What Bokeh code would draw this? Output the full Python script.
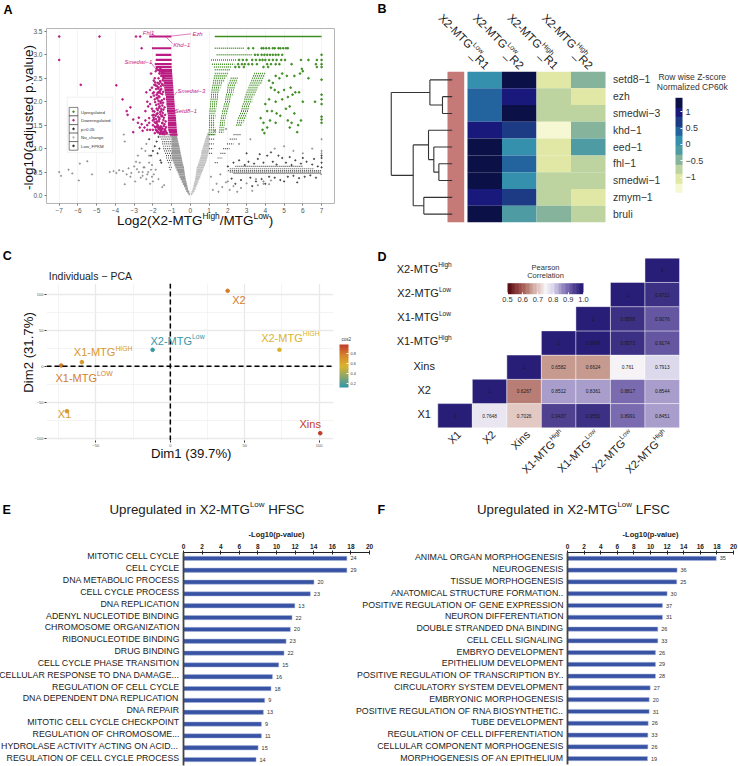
from math import pi, cos, sin
from bokeh.plotting import figure
from bokeh.layouts import row, column
from bokeh.models import (Label, Range1d, LinearAxis, FixedTicker, Span, ColorBar, LinearColorMapper,
                          ColumnDataSource, AllLabels)
from bokeh.core.properties import value
from bokeh.embed import file_html
from bokeh.resources import INLINE

FONT = "Liberation Sans"
# ---------------- panel A data
ticks_a_x = list(range(-7, 8))
ticks_a_y = [0, 0.5, 1, 1.5, 2, 2.5, 3, 3.5]
pink_row_y = [3.39,3.14,3.0,2.89,2.8,2.74,2.68,2.64,2.6,2.55,2.5,2.45,2.4,2.35,2.3,2.25,2.2,2.15,2.1,2.05,2.0,1.95,1.9,1.85,1.8,1.75,1.7,1.65,1.6,1.55,1.5,1.45,1.4,1.35,1.3]
pink_row_a = [-2.2,-2.05,-1.85,-1.85,-1.9,-1.85,-1.8,-1.7,-1.6,-1.55,-1.5,-1.45,-1.42,-1.4,-1.4,-1.38,-1.36,-1.34,-1.3,-1.3,-1.28,-1.28,-1.26,-1.25,-1.25,-1.22,-1.2,-1.2,-1.2,-1.2,-1.2,-1.2,-1.18,-1.15,-1.1]
pink_row_b = [-1.02,-1.02,-1.02,-1.0,-1.0,-1.0,-0.98,-0.98,-0.97,-0.96,-0.95,-0.94,-0.93,-0.92,-0.91,-0.9,-0.89,-0.88,-0.87,-0.86,-0.85,-0.84,-0.83,-0.82,-0.81,-0.8,-0.78,-0.77,-0.76,-0.75,-0.74,-0.73,-0.72,-0.71,-0.68]
pink_x = [-7,-4.85,-2.9,-2.68,-2.6,-7,-5.85,-3.95,-3.62,-3.2,-3.4,-3.35,-3.05,-2.75,-2.8,-2.7,-2.45,-3.05,-2.3,-2.15,-2.4,-2.25,-2.05,-1.95,-2.2,-2.0,-1.85,-1.75,-2.3,-2.1,-1.9,-1.7,-2.35,-2.15,-1.95,-1.8,-1.65,-2.05,-1.85,-1.7,-1.6,-2.3,-2.0,-1.8,-1.55,-1.95,-1.75,-1.6,-1.9,-1.7,-1.55,-2.1,-1.85,-1.65,-1.5,-1.8,-1.6,-1.45,-1.75,-1.55,-1.75,-1.6,-1.5,-1.65,-1.5,-2.2,-2.0,-2.4,-2.55,-2.6,-1.9,-1.7,-2.0,-1.6,-2.15,-1.45,-1.5,-1.8,-1.95,-1.7,
          -1.42,-1.48,-1.52,-1.58,-1.62,-1.68,-1.72,-1.78,-1.83,-1.88,-1.92,-1.45,-1.5,-1.55,-1.6,-1.65,-1.7,-1.75,-1.8,-1.4,-1.46,-1.52,-1.58,-1.64,-1.7,-1.76,-1.82,-1.88,-1.94,-2.0,-1.38,-1.44,-1.5,-1.56,-1.62,-1.68,-1.74,-1.8,-1.86,-1.92,-1.35,-1.42,-1.48,-1.54,-1.6,-1.66,-1.72,-1.78,-1.84,-1.9,-1.96,-2.02,-1.32,-1.38,-1.44,-1.5,-1.56,-1.62,-1.68,-1.74,-1.8,-1.86,-1.3,-1.36,-1.42,-1.48,-1.54,-1.6,-1.66,-1.72,-1.78,-1.84,-1.9,-1.28,-1.34,-1.4,-1.46,-1.52,-1.58,-1.64,-1.7,-1.76,-1.26,-1.32,-1.38,-1.44,-1.5,-1.56,-1.62,-1.68]
pink_y = [3.39,3.39,3.39,3.39,3.14,2.89,2.36,2.35,2.05,1.88,1.8,1.72,1.62,1.66,1.55,1.45,1.45,1.35,1.4,1.4,1.8,1.9,1.85,1.72,1.65,1.6,1.55,1.5,2.0,2.1,2.05,1.95,2.2,2.25,2.2,2.15,2.1,2.3,2.35,2.3,2.25,1.5,1.4,1.38,1.42,2.45,2.4,2.42,2.5,2.5,2.55,2.6,2.65,2.6,2.66,2.7,2.7,2.62,1.75,1.8,1.35,1.32,1.34,1.65,1.55,1.55,1.5,1.6,1.38,1.52,1.33,1.42,1.8,2.0,1.95,2.35,1.7,1.85,1.62,2.2,
          2.52,2.46,2.38,2.33,2.44,2.38,2.28,2.33,2.27,2.41,2.36,2.21,2.16,2.27,2.18,2.22,2.12,2.19,2.08,2.06,1.98,2.03,1.97,1.9,2.02,2.07,1.93,1.99,2.13,2.18,1.88,1.83,1.92,1.85,1.78,1.87,1.82,1.74,1.7,1.79,1.72,1.66,1.76,1.69,1.73,1.62,1.68,1.58,1.63,1.56,1.66,1.71,1.58,1.52,1.61,1.54,1.47,1.44,1.58,1.49,1.54,1.45,1.46,1.39,1.48,1.42,1.36,1.47,1.41,1.35,1.46,1.4,1.47,1.33,1.42,1.36,1.31,1.43,1.38,1.32,1.45,1.37,1.33,1.37,1.31,1.35,1.32,1.39,1.34]
green_row_y = [3.14,3.0,2.89,2.8,2.74,2.68,2.6,2.55,2.5,2.45,2.4,2.35,2.3,2.25,2.2,2.15,2.1,2.05,2.0,1.95,1.9,1.85,1.8,1.75,1.7,1.65,1.6,1.55,1.5,1.45,1.4,1.35,1.3,
               2.5,2.45,2.4,2.35,2.3,2.25,2.2,2.15,2.1,2.05,2.0,1.95,1.9,1.85,1.8,1.75,1.7,1.65,1.6,1.55,1.5,1.45,1.4,1.35,
               2.6,2.55,2.5,2.45,2.4,2.35,2.3,2.25,2.2,2.15,2.1,2.05,2.0,1.95,1.9,1.85,1.8,1.75,1.7,1.65,1.6,1.55,1.5]
green_row_a = [1.3,1.4,1.1,1.15,1.25,1.3,1.3,1.28,1.25,1.22,1.2,1.18,1.15,1.13,1.12,1.1,1.1,1.08,1.06,1.05,1.05,1.03,1.02,1.02,1.0,1.0,1.0,1.0,1.0,1.0,0.98,0.98,0.96,
               2.15,2.1,2.05,2.0,1.98,1.96,1.95,1.9,1.88,1.86,1.85,1.8,1.77,1.75,1.7,1.68,1.65,1.63,1.6,1.58,1.57,1.55,1.55,1.52,
               3.4,3.35,3.3,3.25,3.2,3.15,3.1,3.05,3.0,2.95,2.9,2.88,2.85,2.8,2.75,2.73,2.7,2.65,2.6,2.55,2.5,2.48,2.45]
green_row_b = [2.9,3.3,2.5,2.35,2.2,2.15,2.0,1.95,1.9,1.8,1.7,1.65,1.6,1.57,1.53,1.5,1.5,1.47,1.45,1.42,1.4,1.38,1.37,1.35,1.35,1.33,1.3,1.3,1.3,1.33,1.35,1.35,1.35,
               2.55,2.52,2.5,2.42,2.36,2.32,2.3,2.25,2.2,2.18,2.15,2.1,2.05,2.02,2.0,1.95,1.9,1.88,1.85,1.83,1.82,1.8,1.8,1.76,
               4.0,3.95,3.9,3.85,3.8,3.7,3.6,3.55,3.5,3.42,3.35,3.32,3.3,3.2,3.15,3.12,3.1,3.0,2.98,2.95,2.9,2.82,2.75]
green_x = [3.1,3.35,3.8,3.9,4.05,4.2,4.4,4.5,4.7,4.8,4.95,5.1,5.2,3.45,3.6,3.8,3.95,4.1,4.25,4.4,4.55,4.7,4.9,7,2.6,2.8,3.0,3.3,3.5,3.7,3.85,4.0,4.2,4.4,4.6,4.85,5.05,5.9,6.3,6.75,7,2.55,2.75,2.9,3.1,3.3,3.55,4.1,4.3,4.55,4.75,5.4,6.7,7,2.4,2.6,2.85,3.9,4.15,6.75,7,5.95,6.0,5.85,6.3,5.55,5.15,4.9,4.75,4.55,4.4,4.2,4.3,4.5,4.7,5.0,5.35,5.6,5.8,5.45,5.2,4.9,4.55,4.2,4.0,4.1,4.35,4.6,4.8,4.55,4.25,4.1,3.9,3.75,3.85,3.95,5.1,5.3,5.55,5.2,5.4,5.75,5.9,5.3,5.7,6.0,6.65,7,7,7,7,7,7,7]
green_y = [3.14,3.14,3.14,3.14,3.14,3.14,3.14,3.14,3.14,3.14,3.14,3.14,3.14,3.0,3.0,3.0,3.0,3.0,3.0,3.0,3.0,3.0,3.0,3.0,2.89,2.89,2.89,2.89,2.89,2.89,2.89,2.89,2.89,2.89,2.89,2.89,2.89,2.89,2.89,2.89,2.89,2.8,2.8,2.8,2.8,2.8,2.8,2.8,2.8,2.8,2.8,2.8,2.8,2.8,2.74,2.74,2.74,2.74,2.74,2.74,2.74,2.7,2.65,2.6,2.5,2.55,2.55,2.6,2.5,2.55,2.4,2.45,2.3,2.25,2.2,2.25,2.3,2.2,2.2,2.15,2.1,2.05,2.0,2.05,1.95,1.8,1.8,1.75,1.7,1.55,1.6,1.45,1.55,1.65,1.4,1.33,1.85,1.9,1.75,1.6,1.55,1.5,1.6,1.45,1.35,2.0,2.0,2.47,2.15,2.05,1.95,1.68,1.62,1.55]
dark_row_y = [0.6,0.7,0.8,0.9,1.0,1.1,1.2,1.3, 0.9,1.0,1.1,1.2,1.3, 0.7,0.8,0.9,1.0,1.1,1.2,1.3, 0.47,0.5,0.53,0.57,0.62, 0.65,0.75,0.85,0.95,1.05,1.15,1.25,0.55,0.45]
dark_row_a = [-1.15,-1.2,-1.3,-1.35,-1.45,-1.5,-1.55,-1.65, 1.0,1.0,1.0,1.0,1.0, 1.3,1.45,1.6,1.75,1.95,2.1,2.3, 2.3,2.1,2.0,2.1,2.4, -1.1,-1.25,-1.3,-1.4,-1.45,-1.5,-1.6,-1.1,6.95]
dark_row_b = [-1.0,-1.0,-1.0,-1.0,-1.0,-1.0,-1.0,-1.0, 1.18,1.22,1.25,1.28,1.3, 1.5,1.7,1.9,2.1,2.3,2.5,2.7, 7,7,7,6.6,6.0, -1.0,-1.0,-1.0,-1.0,-1.0,-1.0,-1.0,-1.0,7]
grey_y  = [0.03,0.07,0.1,0.15,0.2,0.25,0.3,0.35,0.4,0.45,0.5,0.55,0.6,0.65,0.7,0.75,0.8,0.85,0.9,0.95,1.0,1.05,1.1,1.15,1.2,1.25,1.3]
grey_l0 = [-0.1,-0.16,-0.22,-0.28,-0.34,-0.4,-0.46,-0.52,-0.58,-0.63,-0.68,-0.74,-0.8,-0.85,-0.9,-0.95,-1.0,-1.0,-1.0,-1.0,-1.0,-1.0,-1.0,-1.0,-1.0,-1.0,-1.0]
grey_l1 = [-0.03,-0.06,-0.1,-0.13,-0.16,-0.19,-0.22,-0.25,-0.27,-0.29,-0.31,-0.33,-0.34,-0.38,-0.41,-0.44,-0.46,-0.49,-0.52,-0.54,-0.56,-0.59,-0.62,-0.65,-0.68,-0.7,-0.73]
grey_r0 = [0.03,0.06,0.1,0.13,0.16,0.19,0.22,0.25,0.27,0.29,0.31,0.33,0.34,0.4,0.44,0.48,0.52,0.56,0.58,0.6,0.64,0.68,0.72,0.76,0.8,0.84,0.88]
grey_r1 = [0.1,0.16,0.22,0.28,0.33,0.38,0.43,0.48,0.53,0.58,0.63,0.68,0.73,0.78,0.83,0.87,0.9,0.93,0.96,0.98,1.0,1.0,1.0,1.0,1.0,1.0,1.0]
dark_x = [2.0,2.3,2.6,2.9,3.1,3.4,3.6,3.9,4.1,4.4,4.6,4.9,5.1,5.4,5.6,5.9,6.2,6.5,6.8,2.2,2.7,3.2,3.5,3.8,4.2,4.5,4.8,5.2,5.5,5.8,6.1,6.4,6.7,3.0,3.7,4.3,4.7,5.3,6.0,6.6,2.4,3.3,4.0,5.0,5.7,7,7,7,7,-1.7,-1.8,-1.65,-1.9,-1.75,-2.0,-2.2,-2.1,-1.6,-1.55]
dark_y = [0.62,0.7,0.75,0.65,0.72,0.68,0.78,0.7,0.85,0.72,0.66,0.8,0.7,0.65,0.75,0.68,0.72,0.66,0.62,0.36,0.33,0.38,0.3,0.35,0.4,0.38,0.33,0.4,0.42,0.37,0.4,0.43,0.38,0.9,0.88,0.92,0.85,0.82,0.8,0.78,0.25,0.2,0.25,0.3,0.28,0.8,0.7,0.6,0.85,1.25,1.15,1.0,1.05,0.9,0.95,1.2,0.85,0.75,0.7]
grey_sc_x = [-7,-6.9,-6.5,-6.3,-5.95,-5.5,-5.25,-5.9,-4.3,-4.1,-3.95,-3.8,-3.6,-3.4,-3.3,-3.15,-3.0,-2.85,-2.7,-2.55,-3.5,-3.2,-2.95,-2.8,-2.65,-2.5,-2.4,-2.3,-2.2,-2.1,-3.5,-3.55,-2.0,-2.6,-2.35,-2.2,-2.05,-2.9,-2.75,-2.55,-2.45,-2.35,-2.25,-2.15,-2.05,-1.95,-1.85,-1.5,-1.7,-1.4,1.2,1.4,1.5,1.7,1.9,2.1,2.3,2.5,2.7,3.0,3.3,3.6,3.9,4.2,7,7,7,1.3,1.9,2.6,3.2,4.5,5.0,5.5,6.0,6.5,3.5,3.9,4.3,1.1,1.6,2.0]
grey_sc_y = [0.5,0.42,0.55,0.47,0.32,0.73,0.45,0.68,0.5,0.52,0.48,0.54,0.52,0.45,0.58,0.48,0.62,0.56,0.7,0.5,0.24,0.4,0.3,0.85,0.38,0.6,0.95,0.45,0.7,0.55,1.15,1.3,0.3,1.0,1.1,0.85,0.4,0.72,0.5,0.42,0.6,0.35,0.5,0.25,0.65,0.45,0.55,0.18,0.35,0.22,0.12,0.25,0.08,0.18,0.28,0.12,0.2,0.08,0.16,0.26,0.1,0.22,0.3,0.24,1.2,0.95,0.9,1.38,1.42,1.1,1.2,1.0,1.05,0.95,0.9,1.0,0.35,0.25,0.32,0.4,0.45,0.3]
# ---------------- panel B data
genes = ["setd8\u22121", "ezh", "smedwi\u22123", "khd\u22121", "eed\u22121", "fhl\u22121", "smedwi\u22121", "zmym\u22121", "bruli"]
z_r1 = [0.05, 0.45, 0.45, 1.1, 1.35, 1.35, 1.35, 1.1, 1.35]
z_r2 = [1.35, 1.1, 1.35, 0.75, 0.1, 0.45, 0.15, 0.75, -0.1]
z_r3 = [-0.95, -0.7, -0.7, -1.35, -1.0, -1.0, -0.7, -0.7, -0.4]
z_r4 = [-0.35, -1.0, -0.7, -0.4, -0.1, -0.7, -0.7, -1.0, -0.7]
heat_pal = ["#f6f8d4","#e1e8a5","#bdd4a0","#85b39b","#4f9ba3","#3590ad","#23649f","#1d3a85","#18197a","#0b1146"]
# dendrogram segments: heights (x) and row positions (y)
den_x0 = [-0.444,-0.444,-0.444,-0.725,-0.725,-1.09,-1.09,-0.444,-0.444,-0.444,-0.444,-0.83,-0.83,-0.976,-0.976,-1.13,-1.13,-0.444,-0.444,-1.266,-1.266,-1.574,-1.574,-2.21]
den_y0 = [0.5,1.5,2.5,1.5,2.0,0.5,1.25,3.5,4.5,5.5,6.5,5.5,6.0,4.5,5.25,3.5,4.375,7.5,8.5,7.5,8.0,4.375,6.19,1.25]
den_x1 = [-1.09,-0.725,-0.725,-0.725,-1.09,-1.09,-2.21,-1.13,-0.976,-0.83,-0.83,-0.83,-0.976,-0.976,-1.13,-1.13,-1.574,-1.266,-1.266,-1.266,-1.574,-1.574,-2.21,-2.21]
den_y1 = [0.5,1.5,2.5,2.5,2.0,2.0,1.25,3.5,4.5,5.5,6.5,6.5,6.0,6.0,5.25,5.25,4.375,7.5,8.5,8.5,8.0,8.0,6.19,6.19]
# ---------------- panel C data
pca_names = ["X2", "X2-MTG|Low", "X2-MTG|HIGH", "X1-MTG|HIGH", "X1-MTG|LOW", "X1", "Xins"]
pca_d1 = [38.5, -11.9, 73.3, -59.4, -73.3, -69.5, 100.7]
pca_d2 = [104.5, 22.7, 22.7, 5.6, 1.0, -62.4, -92.9]
pca_cos2 = [0.78, 0.15, 0.55, 0.68, 0.78, 0.66, 0.96]
# ---------------- panel D data
cor_names = ["X1", "X2", "Xins", "X1-MTG|High", "X1-MTG|Low", "X2-MTG|Low", "X2-MTG|High"]
cor_col = [0,1,2,3,4,5,6, 1,2,3,4,5,6, 2,3,4,5,6, 3,4,5,6, 4,5,6, 5,6, 6]
cor_row = [0,0,0,0,0,0,0, 1,1,1,1,1,1, 2,2,2,2,2, 3,3,3,3, 4,4,4, 5,5, 6]
cor_val = [1,0.7648,0.7026,0.9437,0.9551,0.8991,0.8451, 1,0.6267,0.8512,0.8361,0.8817,0.8544,
           1,0.6582,0.6624,0.761,0.7913, 1,0.9978,0.9573,0.9174, 1,0.9598,0.9076, 1,0.9721, 1]
# ---------------- panels E, F data
e_terms = ["MITOTIC CELL CYCLE","CELL CYCLE","DNA METABOLIC PROCESS","CELL CYCLE PROCESS","DNA REPLICATION","ADENYL NUCLEOTIDE BINDING","CHROMOSOME ORGANIZATION","RIBONUCLEOTIDE BINDING","DRUG BINDING","CELL CYCLE PHASE TRANSITION","CELLULAR RESPONSE TO DNA DAMAGE...","REGULATION OF CELL CYCLE","DNA DEPENDENT DNA REPLICATION","DNA REPAIR","MITOTIC CELL CYCLE CHECKPOINT","REGULATION OF CHROMOSOME...","HYDROLASE ACTIVITY ACTING ON ACID...","REGULATION OF CELL CYCLE PROCESS"]
e_vals = [17.57,17.57,14.03,13.64,11.97,11.67,11.49,11.03,10.81,10.24,9.56,9.41,8.73,8.59,8.38,8.38,8.02,7.8]
e_counts = [24,29,20,23,13,22,20,23,22,15,16,18,9,13,9,11,15,14]
f_terms = ["ANIMAL ORGAN MORPHOGENESIS","NEUROGENESIS","TISSUE MORPHOGENESIS","ANATOMICAL STRUCTURE FORMATION..","POSITIVE REGULATION OF GENE EXPRESSION","NEURON DIFFERENTIATION","DOUBLE STRANDED DNA BINDING","CELL CELL SIGNALING","EMBRYO DEVELOPMENT","EPITHELIUM DEVELOPMENT","POSITIVE REGULATION OF TRANSCRIPTION BY..","CIRCULATORY SYSTEM DEVELOPMENT","EMBRYONIC MORPHOGENESIS","POSITIVE REGULATION OF RNA BIOSYNTHETIC..","TUBE DEVELOPMENT","REGULATION OF CELL DIFFERENTIATION","CELLULAR COMPONENT MORPHOGENESIS","MORPHOGENESIS OF AN EPITHELIUM"]
f_vals = [17.92,13.2,13.16,12.0,11.44,11.44,10.88,10.88,10.6,10.6,10.6,9.96,9.84,9.84,9.72,9.68,9.68,9.64]
f_counts = [35,36,25,30,37,31,26,33,26,29,28,27,20,31,26,33,26,19]

# ---------------- helpers
W = {'X':667,'1':556,'2':556,'-':333,'M':833,'T':611,'G':778,'H':722,'i':222,'g':556,'h':556,'L':556,'o':556,'w':722,'I':278,'C':722,'O':778,'/':278,
     'l':222,'U':722,'p':556,'r':333,'e':556,'u':556,'a':556,'t':278,'d':556,'n':556,' ':278,'(':333,')':333,'S':667,'F':611,'s':500}
def tw(s, size):
    return sum(W.get(c, 556) for c in s) * size / 1000.0

def make_fig(ox, oy, w, h, fx0, fy0, fx1, fy1, xr, yr, **kw):
    p = figure(width=w, height=h, x_range=xr, y_range=yr, output_backend="svg", toolbar_location=None, frame_align=False,
               min_border_left=int(round(fx0-ox)), min_border_right=int(round(ox+w-fx1)),
               min_border_top=int(round(fy0-oy)), min_border_bottom=int(round(oy+h-fy1)), **kw)
    p.border_fill_color = None
    p.background_fill_color = None
    p.outline_line_color = None
    p.grid.visible = False
    return p

# a transparent sheet over the whole page carries the free-standing texts
sheet = figure(width=738, height=766, x_range=Range1d(0, 738), y_range=Range1d(0, 766), output_backend="svg",
               toolbar_location=None, frame_align=False, x_axis_location=None, y_axis_location=None,
               min_border_left=0, min_border_right=0, min_border_top=0, min_border_bottom=0, margin=(-766, 0, 0, 0))
sheet.border_fill_color = None
sheet.background_fill_color = None
sheet.outline_line_color = None
sheet.grid.visible = False

def put(px, py, text, size, color="#222222", angle=0, align="left", baseline="middle", style="normal"):
    sheet.add_layout(Label(x=px, y=766-py, text=text, text_font=FONT, text_font_size=f"{size}px", text_color=color, angle=angle,
                           text_align=align, text_baseline=baseline, text_font_style=style))

def rich(px, py, parts, size, color="#222222", angle=0, center=False, ratio=0.62):
    """parts: list of (text, is_superscript); drawn left to right along the angle."""
    total = sum(tw(t, size*ratio if s else size) for t, s in parts)
    d = -total/2 if center else 0
    for t, s in parts:
        sz = size*ratio if s else size
        rise = size*0.36 if s else 0
        lead_sp = tw(t[:len(t)-len(t.lstrip())], sz)
        put(px + (d+lead_sp)*cos(angle) - rise*sin(angle), py - (d+lead_sp)*sin(angle) - rise*cos(angle), t.strip(), round(sz,2), color, angle=angle)
        d += tw(t, sz)

def parts_of(name):
    return [(name.split("|")[0], False), (name.split("|")[1], True)] if "|" in name else [(name, False)]

def mix(a, b, t):
    ca = [int(a[i:i+2],16) for i in (1,3,5)]; cb = [int(b[i:i+2],16) for i in (1,3,5)]
    return "#%02x%02x%02x" % tuple(int(round(x+(y-x)*t)) for x, y in zip(ca, cb))

def ramp(anchors, n):
    out = []
    for i in range(n):
        f = i/(n-1)*(len(anchors)-1); k = min(int(f), len(anchors)-2)
        out.append(mix(anchors[k], anchors[k+1], f-k))
    return out

# ---------------- A
ax0, ax1, ay0, ay1 = 46.3, 334.3, 28.3, 203.3
xsc, ysc = 18.74, 46.9
pA = make_fig(0, 0, 370, 240, ax0, ay0, ax1, ay1,
              Range1d(-7+(ax0-59)/xsc, -7+(ax1-59)/xsc), Range1d((195.3-ay1)/ysc, (195.3-ay0)/ysc))
pA.outline_line_color = "#b5b5b5"
pA.xaxis.ticker = FixedTicker(ticks=ticks_a_x)
pA.xaxis.major_label_overrides = {t: (f"\u2212{-t}" if t < 0 else str(t)) for t in ticks_a_x}
pA.yaxis.ticker = FixedTicker(ticks=ticks_a_y)
pA.yaxis.major_label_overrides = {t: f"{t:.1f}" for t in ticks_a_y}
for ax in (pA.xaxis[0], pA.yaxis[0]):
    ax.axis_line_color = None
    ax.major_tick_line_color = "#777777"
    ax.major_tick_out = 2; ax.major_tick_in = 0
    ax.minor_tick_line_color = None
    ax.major_label_text_font = FONT
    ax.major_label_text_font_size = "6.5px"
    ax.major_label_text_color = "#555555"
    ax.major_label_standoff = 2
pA.xgrid.visible = True
pA.xgrid.ticker = FixedTicker(ticks=ticks_a_x)
pA.xgrid.grid_line_color = "#efefef"
pA.xgrid.grid_line_width = 0.7
GREY, BLK, PINK, GREEN = "#9a9a9a", "#2e2e2e", "#bb1c82", "#3f8e22"
pA.segment(grey_l0, grey_y, grey_l1, grey_y, line_color=GREY, line_width=2.4)
pA.segment(grey_r0, grey_y, grey_r1, grey_y, line_color="#c4c4c4", line_width=2.4)
pA.scatter(grey_sc_x, grey_sc_y, size=1.3, color="#8a8a8a", alpha=0.8)
pA.segment(dark_row_a, dark_row_y, dark_row_b, dark_row_y, line_color=BLK, line_width=1.2, line_dash="1 1", line_alpha=0.85)
pA.scatter(dark_x, dark_y, size=1.3, color=BLK, alpha=0.75)
pA.segment(pink_row_a, pink_row_y, pink_row_b, pink_row_y, line_color=PINK, line_width=2.2)
pA.scatter(pink_x, pink_y, size=1.7, color=PINK)
pA.segment([1.3], [3.39], [7], [3.39], line_color=GREEN, line_width=1.6)
pA.segment(green_row_a, green_row_y, green_row_b, green_row_y, line_color=GREEN, line_width=1.6, line_dash="1 1")
pA.scatter(green_x, green_y, size=1.7, color=GREEN)
def adx(px): return -7+(px-59)/xsc
def ady(py): return (195.3-py)/ysc
# leader lines and gene names
lead = [(455/3,100/3,465/3,108/3),(510/3,108/3,572/3,101/3),(497/3,110/3,517/3,130/3),(450/3,185/3,470/3,210/3),(522/3,286/3,530/3,275/3),(520/3,333/3,528/3,331/3)]
pA.segment([adx(a[0]) for a in lead],[ady(a[1]) for a in lead],[adx(a[2]) for a in lead],[ady(a[3]) for a in lead],line_color="#c2268d",line_width=0.6)
for n, zx, zy in [("Fhl1",427,97),("Ezh",576,101),("Khd\u22121",518,134),("Smedwi\u22121",372,183),("Smedwi\u22123",531,272),("Setd8\u22121",523,330)]:
    put(zx/3, zy/3, n, 5.9, "#c2268d", style="italic")
# legend of the volcano
pA.quad(left=[adx(67)], right=[adx(112.5)], bottom=[ady(152.5)], top=[ady(97)], fill_color="white", line_color="#eeeeee", line_width=0.8)
leg_rows = [("Upregulated", GREEN, 111.5), ("Downregulated", PINK, 120), ("p>0.05", BLK, 128.7), ("No_change", "#bbbbbb", 137.2), ("Low_FPKM", BLK, 145.7)]
pA.quad(left=[adx(69)]*5, right=[adx(77.7)]*5, top=[ady(r[2]-4.3) for r in leg_rows], bottom=[ady(r[2]+4.3) for r in leg_rows],
        fill_color="white", line_color="#333333", line_width=0.6)
pA.scatter([adx(73.3)]*5, [ady(r[2]) for r in leg_rows], size=1.6, color=[r[1] for r in leg_rows])
for n, c, y in leg_rows:
    put(80.5, y, n, 4.4, "#333333")
put(28, 117, "-log10(adjusted p.value)", 13.5, "#111111", angle=pi/2, align="center")
rich(116.5, 220, [("Log2(X2-MTG",False),("High",True),("/MTG",False),("Low",True),(")",False)], 13.5, "#111111")
put(3, 9, "A", 12.5, "#000000", style="bold")

# ---------------- B
cw, rh = 34.5, 151/9
bfx0, bfx1, bfy0, bfy1 = 372, 738, 70.7, 221.7
pB = make_fig(370, 0, 368, 240, bfx0, bfy0, bfx1, bfy1,
              Range1d((bfx0-467)/cw, (bfx1-467)/cw), Range1d(9, 0), x_axis_location=None, y_axis_location=None)
cells_x, cells_y, cells_z = [], [], []
for c, col in enumerate([z_r1, z_r2, z_r3, z_r4]):
    for r, v in enumerate(col):
        cells_x.append(c+0.5); cells_y.append(r+0.5); cells_z.append(v)
mapperB = LinearColorMapper(palette=heat_pal, low=-1.47, high=1.42)
pB.rect(cells_x, cells_y, width=1, height=1, fill_color=[heat_pal[max(0,min(9,int((z+1.47)/0.289)))] for z in cells_z], line_color=None)
pB.quad(left=[-0.58], right=[-0.095], bottom=[9], top=[0], fill_color="#c57a78", line_color=None)
pB.segment(den_x0, den_y0, den_x1, den_y1, line_color="#333333", line_width=1.1)
pB.text([4.22]*9, [i+0.5 for i in range(9)], text=genes, text_font=value(FONT), text_font_size="10.4px", text_color="#333333", text_baseline="middle")
for i, (sup, rp) in enumerate([("Low","_R1"),("Low","_R2"),("High","_R1"),("High","_R2")]):
    a = -pi/4
    rich(440+i*34.5, 15.3, [("X2-MTG",False),(sup,True)], 11.5, "#222222", angle=a, ratio=0.6)
    put(472+i*34.5, 52, rp, 11.5, "#222222", angle=a)
put(691.7, 76.7, "Row wise Z-score", 8.5, "#333333", align="center")
put(691.7, 86, "Normalized CP60k", 8.5, "#333333", align="center")
cbB = ColorBar(color_mapper=mapperB, location=(675-bfx0, bfy1-192), width=7, height=95, padding=0, margin=0,
               ticker=FixedTicker(ticks=[-1,-0.5,0,0.5,1]),
               major_label_overrides={-1:"\u22121",-0.5:"\u22120.5",0:"0",0.5:"0.5",1:"1"},
               major_label_text_font=FONT, major_label_text_font_size="9px", major_label_text_color="#333333",
               major_tick_line_color="white", major_tick_in=2, major_tick_out=0, label_standoff=3, bar_line_color=None, background_fill_color=None, border_line_color=None)
pB.add_layout(cbB)
put(377, 8.5, "B", 12.5, "#000000", style="bold")

# ---------------- C
cfx0, cfx1, cfy0, cfy1 = 46.3, 333, 283, 440
xc, yc = 1.487, 0.7213
pC = make_fig(0, 240, 370, 250, cfx0, cfy0, cfx1, cfy1,
              Range1d((cfx0-170)/xc, (cfx1-170)/xc), Range1d((365.7-cfy1)/yc, (365.7-cfy0)/yc))
for g, maj, mnr in [(pC.xgrid[0], [-50,0,50,100], [-75,-25,25,75]), (pC.ygrid[0], [-100,-50,0,50,100], [-75,-25,25,75])]:
    g.visible = True
    g.ticker = FixedTicker(ticks=maj, minor_ticks=mnr)
    g.grid_line_color = "#e9e9e9"; g.grid_line_width = 1.3
    g.minor_grid_line_color = "#efefef"; g.minor_grid_line_width = 0.7
pC.xaxis.ticker = FixedTicker(ticks=[-50,0,50,100])
pC.yaxis.ticker = FixedTicker(ticks=[-100,-50,0,50,100])
pC.xaxis.major_label_overrides = {-50:"\u221250",0:"0",50:"50",100:"100"}
pC.yaxis.major_label_overrides = {-100:"\u2212100",-50:"\u221250",0:"0",50:"50",100:"100"}
for ax in (pC.xaxis[0], pC.yaxis[0]):
    ax.axis_line_color = None
    ax.minor_tick_line_color = None
    ax.major_tick_out = 2; ax.major_tick_in = 0
    ax.major_tick_line_color = "#333333"
    ax.major_label_text_font = FONT
    ax.major_label_text_font_size = "4px"
    ax.major_label_text_color = "#555555"
    ax.major_label_standoff = 1
pC.add_layout(Span(location=0, dimension="width", line_color="black", line_width=1.5, line_dash="5 3"))
pC.add_layout(Span(location=0, dimension="height", line_color="black", line_width=1.5, line_dash="5 3"))
cos_pal = ramp(["#2f97a8", "#8aa66a", "#d9b42c", "#d5862c", "#c23b2a"], 64)
mapperC = LinearColorMapper(palette=cos_pal, low=0.13, high=0.97)
def cos_color(v):
    return cos_pal[max(0, min(63, int((v-0.13)/0.84*64)))]
pC.scatter(pca_d1, pca_d2, size=3.6, color=[cos_color(v) for v in pca_cos2])
lab_pos = [(695,177),(450,300),(782,291),(220,335),(165,411),(172,521),(897,549)]
for n, v, (zx, zy) in zip(pca_names, pca_cos2, lab_pos):
    rich(zx/3, 240+zy/3, parts_of(n), 11, cos_color(v))
cbC = ColorBar(color_mapper=mapperC, location=(6, 53), width=9, height=43, padding=0, margin=0,
               ticker=FixedTicker(ticks=[0.2,0.4,0.6,0.8]), major_label_text_font=FONT, major_label_text_font_size="3.8px",
               major_label_text_color="#333333", major_tick_line_color="white", major_tick_in=2, major_tick_out=0, label_standoff=2,
               bar_line_color=None, background_fill_color=None, border_line_color=None)
pC.add_layout(cbC, "right")
put(341, 339, "cos2", 4.5, "#333333")
put(48.3, 275, "Individuals \u2212 PCA", 10.5, "#222222")
put(190.7, 453, "Dim1 (39.7%)", 13.2, "#111111", align="center")
put(28.3, 352, "Dim2 (31.7%)", 13.2, "#111111", angle=pi/2, align="center")
put(2.3, 255.7, "C", 12.5, "#000000", style="bold")

# ---------------- D
dw, dh = 34.53, 24.23
dfx0, dfx1, dfy0, dfy1 = 372, 738, 242, 488
pD = make_fig(370, 240, 368, 250, dfx0, dfy0, dfx1, dfy1,
              Range1d((dfx0-437.3)/dw, (dfx1-437.3)/dw), Range1d((427.3-dfy1)/dh, (427.3-dfy0)/dh), x_axis_location=None, y_axis_location=None)
cor_pal = ramp(["#5c1016","#8a3b3b","#a9615a","#c79a90","#e3c9c4","#f6f3f6","#ddd9ec","#a89dcb","#7a6bb0","#4f4190","#281e78"], 21)
mapperD = LinearColorMapper(palette=cor_pal, low=0.5, high=1.0)
srcD = ColumnDataSource(dict(x=[c+0.5 for c in cor_col], y=[r+0.5 for r in cor_row], v=cor_val, t=[("%g" % v) for v in cor_val]))
pD.rect("x", "y", width=1, height=1, source=srcD, fill_color={"field":"v","transform":mapperD}, line_color="#ffffff", line_alpha=0.6, line_width=0.7)
pD.text("x", "y", text="t", source=srcD, text_font=value(FONT), text_font_size="4.8px", text_color="#1a1a1a", text_align="center", text_baseline="middle")
for i, n in enumerate(cor_names):
    rich(423.7, 427.3-(i+0.5)*dh-1.5, parts_of(n), 11, "#222222", center=True, ratio=0.6)
    total = sum(tw(t, 11*0.6 if s else 11) for t, s in parts_of(n))
    ex, ey = 437.3+(i+0.5)*dw+4, 432
    rich(ex-total*cos(pi/4), ey+total*sin(pi/4), parts_of(n), 11, "#222222", angle=pi/4, ratio=0.6)
put(545, 266.7, "Pearson", 7.5, "#333333", align="center")
put(545, 275.3, "Correlation", 7.5, "#333333", align="center")
cbD = ColorBar(color_mapper=mapperD, location=(507-dfx0, dfy1-293.7-11), width=76, height=11, padding=0, margin=0, orientation="horizontal",
               ticker=FixedTicker(ticks=[0.5,0.6,0.7,0.8,0.9,1.0]), major_label_text_font=FONT, major_label_text_font_size="7.5px",
               major_label_overrides={0.5:"0.5",0.6:"0.6",0.7:"0.7",0.8:"0.8",0.9:"0.9",1:"1.0"}, major_label_policy=AllLabels(),
               major_label_text_color="#333333", major_tick_line_color="white", major_tick_in=2, major_tick_out=0, label_standoff=3,
               bar_line_color=None, background_fill_color=None, border_line_color=None)
pD.add_layout(cbD)
put(377, 256, "D", 12.5, "#000000", style="bold")

# ---------------- E, F
def bars(ox, w, fx0, fx1, fy0, fy1, terms, vals, counts, lift, margin=None):
    n = len(terms)
    p = make_fig(ox, 490, w, 276, fx0, fy0, fx1, fy1, Range1d(0, 20), Range1d(n, 0), x_axis_location="above", y_axis_location=None)
    unit = (fy1-fy0)/n
    p.extra_y_ranges = {"lab": Range1d(n+lift/unit, lift/unit)}
    ticks = [i+0.5 for i in range(n)]
    ax = LinearAxis(y_range_name="lab", ticker=FixedTicker(ticks=ticks), major_label_overrides={t: s for t, s in zip(ticks, terms)})
    ax.axis_line_color = "#444444"; ax.axis_line_width = 1.8
    ax.major_tick_line_color = None; ax.minor_tick_line_color = None
    ax.major_tick_out = 0; ax.major_tick_in = 0; ax.minor_tick_out = 0; ax.minor_tick_in = 0
    ax.major_label_text_font = FONT; ax.major_label_text_font_size = "8.8px"; ax.major_label_text_color = "#222222"
    ax.major_label_standoff = 4
    p.add_layout(ax, "left")
    top = p.xaxis[0]
    top.ticker = FixedTicker(ticks=list(range(0, 21, 2)))
    top.axis_label = "-Log10(p-value)"
    top.axis_label_text_font = FONT; top.axis_label_text_font_style = "bold"; top.axis_label_text_font_size = "7.5px"
    top.axis_label_text_color = "#222222"; top.axis_label_standoff = 2
    top.major_label_text_font = FONT; top.major_label_text_font_style = "bold"; top.major_label_text_font_size = "6.5px"
    top.major_label_text_color = "#222222"; top.major_label_standoff = 2
    top.major_tick_in = 2; top.major_tick_out = 2; top.minor_tick_line_color = None
    top.major_tick_line_color = "#222222"; top.axis_line_color = "#222222"; top.axis_line_width = 1
    p.hbar(y=ticks, left=0, right=vals, height=0.36, fill_color="#3953a4", line_color="#a9b7dc", line_width=0.5)
    p.text(vals, ticks, text=[str(c) for c in counts], x_offset=3.5, text_font=value(FONT), text_font_size="5.5px",
           text_color="#333333", text_baseline="middle")
    if margin is not None:
        p.margin = margin
    return p

pE = bars(-12, 386, 183, 369, 552, 765, e_terms, e_vals, e_counts, 2, margin=(0, 0, 0, -12))
rich(109, 509, [("Upregulated in X2-MTG",False),("Low",True),(" HFSC",False)], 13.3, "#222222", ratio=0.6)
put(2, 509, "E", 12.5, "#000000", style="bold")
pF = bars(340, 398, 566.7, 733.3, 551.5, 763.5, f_terms, f_vals, f_counts, 1, margin=(0, 0, 0, -34))
rich(476.5, 509, [("Upregulated in X2-MTG",False),("Low",True),(" LFSC",False)], 13.3, "#222222", ratio=0.6)
put(377, 509, "F", 12.5, "#000000", style="bold")

root = column(row(pA, pB, spacing=0), row(pC, pD, spacing=0), row(pE, pF, spacing=0), sheet, spacing=0)
open("out.html", "w").write(file_html(root, INLINE))
